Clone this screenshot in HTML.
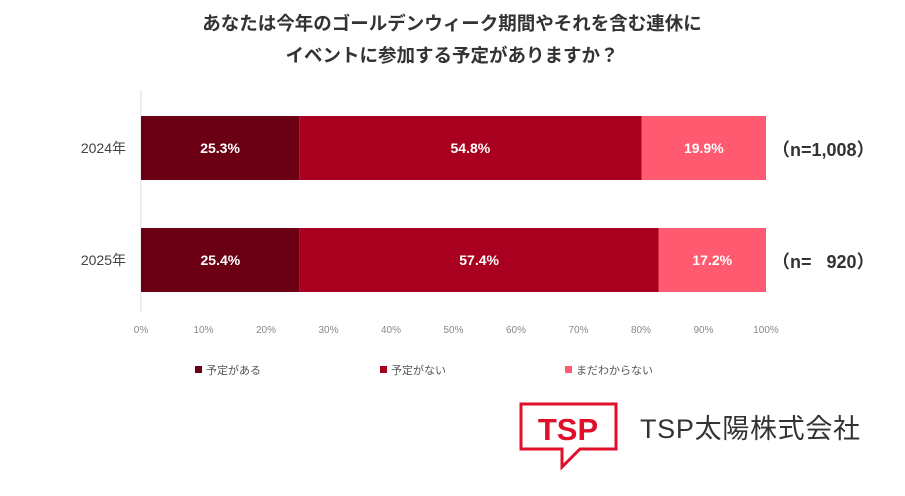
<!DOCTYPE html>
<html><head><meta charset="utf-8"><style>
body{margin:0;background:#fff;width:905px;height:491px;overflow:hidden;font-family:"Liberation Sans","Noto Sans CJK JP",sans-serif}
</style></head><body>
<svg width="905" height="491" id="c" xmlns="http://www.w3.org/2000/svg">
<text x="452" y="30" text-anchor="middle" font-size="18.5" font-weight="bold" fill="#333">あなたは今年のゴールデンウィーク期間やそれを含む連休に</text>
<text x="452" y="62" text-anchor="middle" font-size="18.5" font-weight="bold" fill="#333">イベントに参加する予定がありますか？</text>
<line x1="141" y1="90" x2="141" y2="312" stroke="#ddd"/>
<g id="bars"></g><g id="ticks"></g>
<g font-size="11" fill="#555">
<rect x="195" y="366" width="7" height="7" fill="#6b0015"/><text x="206" y="374">予定がある</text>
<rect x="380" y="366" width="7" height="7" fill="#a8001e"/><text x="391" y="374">予定がない</text>
<rect x="565" y="366" width="7" height="7" fill="#ff5a70"/><text x="576" y="374">まだわからない</text>
</g>
<g>
<path d="M521 404 H616 V449 H580 L562 467 V449 H521 Z" fill="none" stroke="#e0102a" stroke-width="3"/>
<text x="568" y="440" text-anchor="middle" font-size="31" font-weight="bold" fill="#e0102a">TSP</text>
<text x="640" y="438" font-size="27" fill="#333" textLength="220">TSP太陽株式会社</text>
</g>
</svg>
<script>
const categories=["2024年","2025年"];
const yes=[25.3,25.4];
const no=[54.8,57.4];
const unknown=[19.9,17.2];
const nLabels=["（n=1,008）","（n=   920）"];
const tickLabels=["0%","10%","20%","30%","40%","50%","60%","70%","80%","90%","100%"];
const tickValues=[0,10,20,30,40,50,60,70,80,90,100];
const NS="http://www.w3.org/2000/svg";
const x=v=>141+v*6.25, y=i=>116+i*112;
const bars=document.getElementById('bars'),ticks=document.getElementById('ticks');
function mk(t,a,txt){const e=document.createElementNS(NS,t);for(const k in a)e.setAttribute(k,a[k]);if(txt!=null)e.textContent=txt;return e;}
const series=[[yes,"#6b0015","yes"],[no,"#a8001e","no"],[unknown,"#ff5a70","unknown"]];
categories.forEach((c,i)=>{
 const l=mk('text',{x:126,y:y(i)+37,'text-anchor':'end','font-size':14,fill:'#444'},c);
 
 
 bars.appendChild(l);
 let acc=0;
 series.forEach(([arr,col,nm])=>{
  const v=arr[i];
  const r=mk('rect',{x:x(acc),y:y(i),width:x(acc+v)-x(acc),height:64,fill:col});
  
  
  bars.appendChild(r);
  const t=mk('text',{x:x(acc+v/2),y:y(i)+37,'text-anchor':'middle','font-size':14,'font-weight':'bold',fill:'#fff'},v.toFixed(1)+'%');
  
  
  bars.appendChild(t);
  acc+=v;
 });
 const n=mk('text',{x:772,y:y(i)+40,'font-size':18,'font-weight':'bold',fill:'#333'},nLabels[i]);
 n.setAttribute('style','white-space:pre');
 
 
 bars.appendChild(n);
});
tickValues.forEach((v,i)=>{
 const t=mk('text',{x:x(v),y:333,'text-anchor':'middle','font-size':10,fill:'#888'},tickLabels[i]);
 
 
 ticks.appendChild(t);
});
</script>
</body></html>
